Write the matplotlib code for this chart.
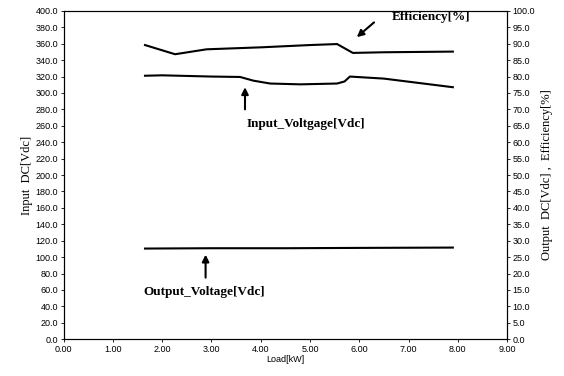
import numpy as np
import matplotlib
matplotlib.use("Agg")
from matplotlib import pyplot as plt
from matplotlib.ticker import FormatStrFormatter

# Load [kW] and readings
load_eff = [1.65, 2.26, 2.90, 4.00, 5.00, 5.55, 5.87, 6.50, 7.90]
efficiency = [89.6, 86.8, 88.3, 88.9, 89.6, 89.9, 87.2, 87.4, 87.6]

load_in = [1.65, 2.00, 3.00, 3.58, 3.85, 4.19, 4.80, 5.55, 5.70, 5.81, 6.50, 7.90]
input_v = [321.0, 321.5, 320.0, 319.5, 315.0, 311.5, 310.5, 311.5, 314.0, 320.0, 317.5, 307.0]

load_out = [1.65, 3.00, 4.50, 6.00, 7.90]
output_v = [27.6, 27.7, 27.7, 27.8, 27.9]

serif = "Liberation Serif"
sans = "Liberation Sans"

def arrow(ax, tip, tail):
    ax.annotate("", xy=tip, xytext=tail,
                arrowprops=dict(arrowstyle="-|>", color="black", lw=1.5,
                                shrinkA=0, shrinkB=0))

fig = plt.figure(figsize=(5.64, 3.76), dpi=100)
ax = fig.add_axes([0.113, 0.098, 0.786, 0.873])
ax2 = ax.twinx()

ax.plot(load_in, input_v, color="black", lw=1.5)
ax2.plot(load_eff, efficiency, color="black", lw=1.5)
ax2.plot(load_out, output_v, color="black", lw=1.5)

ax.set_xlim(0, 9)
ax.set_ylim(0, 400)
ax2.set_ylim(0, 100)
ax.set_xticks(np.arange(0, 10, 1))
ax.set_yticks(np.arange(0, 401, 20))
ax2.set_yticks(np.arange(0, 101, 5))
ax.xaxis.set_major_formatter(FormatStrFormatter("%.2f"))
ax.yaxis.set_major_formatter(FormatStrFormatter("%.1f"))
ax2.yaxis.set_major_formatter(FormatStrFormatter("%.1f"))

for a in (ax, ax2):
    a.tick_params(labelsize=6.5, length=2, width=0.6, pad=2)
    for lbl in a.get_xticklabels() + a.get_yticklabels():
        lbl.set_family(sans)
    for s in a.spines.values():
        s.set_linewidth(0.8)

ax.set_xlabel("Load[kW]", fontsize=6.5, family=sans, labelpad=1)
ax.set_ylabel("Input  DC[Vdc]", fontsize=9, family=serif, labelpad=2)
ax2.set_ylabel("Output  DC[Vdc] ,  Efficiency[%]", fontsize=9, family=serif, labelpad=4)

# labels with arrows
arrow(ax, (5.95, 368), (6.3, 386))
ax.text(6.65, 393, "Efficiency[%]", fontsize=9.5, fontweight="bold",
        family=serif, ha="left", va="center")

arrow(ax, (3.68, 307), (3.68, 280))
ax.text(4.92, 262, "Input_Voltgage[Vdc]", fontsize=9.5, fontweight="bold",
        family=serif, ha="center", va="center")

arrow(ax, (2.88, 103), (2.88, 75))
ax.text(1.62, 57, "Output_Voltage[Vdc]", fontsize=9.5, fontweight="bold",
        family=serif, ha="left", va="center")

fig.savefig("out.png", dpi=100)
